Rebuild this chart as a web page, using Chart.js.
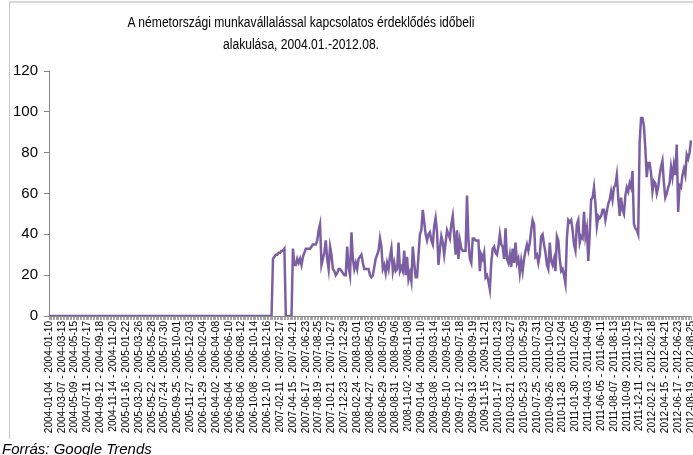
<!DOCTYPE html>
<html lang="hu">
<head>
<meta charset="utf-8">
<title>Németországi munkavállalás - Google Trends</title>
<script src="https://cdn.jsdelivr.net/npm/chart.js@4.4.1/dist/chart.umd.min.js"></script>
<style>
  html, body { margin: 0; padding: 0; background: #fff; }
  #wrapper { position: relative; width: 693px; height: 455px; overflow: hidden; font-family: "Liberation Sans", Arial, sans-serif; color: #000; }
  #frame { position: absolute; left: 9px; top: 1px; width: 700px; height: 436px; border-left: 1px solid #c8c8c8; border-top: 2px solid #d9d9d9; }
  /* the original title uses a narrow face; squeeze the regular one */
  #title { position: absolute; left: 0; width: 602px; top: 11px; text-align: center; font-size: 15.5px; line-height: 22px; transform: scaleX(0.78); transform-origin: 50% 0; white-space: nowrap; }
  #source { position: absolute; left: 2px; top: 440px; font-style: italic; font-size: 15px; }
  canvas { position: absolute; left: 0; top: 0; }
</style>
</head>
<body>
<div id="wrapper">
  <div id="frame"></div>
  <canvas id="trendChart" width="693" height="455"></canvas>
  <div id="title">A németországi munkavállalással kapcsolatos érdeklődés időbeli<br>alakulása, 2004.01.-2012.08.</div>
  <div id="source">Forrás: Google Trends</div>
</div>

<script>
// weekly search interest, first week starts 2004-01-04
const firstWeek = [2004, 0, 4];
const labelEvery = 9; // every 9th week gets a label

const interest = [
    0, 0, 0, 0, 0, 0, 0, 0, 0, 0, 0, 0, 0, 0, 0, 0, 0, 0, 0, 0, 0, 0, 0, 0, 0, 0,
    0, 0, 0, 0, 0, 0, 0, 0, 0, 0, 0, 0, 0, 0, 0, 0, 0, 0, 0, 0, 0, 0, 0, 0, 0, 0,
    0, 0, 0, 0, 0, 0, 0, 0, 0, 0, 0, 0, 0, 0, 0, 0, 0, 0, 0, 0, 0, 0, 0, 0, 0, 0,
    0, 0, 0, 0, 0, 0, 0, 0, 0, 0, 0, 0, 0, 0, 0, 0, 0, 0, 0, 0, 0, 0, 0, 0, 0, 0,
    0, 0, 0, 0, 0, 0, 0, 0, 0, 0, 0, 0, 0, 0, 0, 0, 0, 0, 0, 0, 0, 0, 0, 0, 0, 0,
    0, 0, 0, 0, 0, 0, 0, 0, 0, 0, 0, 0, 0, 0, 0, 0, 0, 0, 0, 0, 0, 0, 0, 0, 0, 0,
    0,
    28, 29, 30, 30, 31, 31, 32, 32, 33,
    0, 0, 0, 0, 0,
    33,
    25, 25, 28, 26, 28, 25, 29, 31, 33, 33, 33, 33, 34, 35, 35, 35, 37, 42, 45, 25,
    28, 31, 37, 28, 23, 34, 30, 23, 22, 20, 21, 23, 23, 22, 21, 20, 20, 34, 24, 20,
    41, 28, 23, 26, 23, 28, 29, 30, 26, 23, 23, 23, 23, 20,
    19, 20, 24, 28, 30, 32, 38, 34, 23, 25, 21, 26, 23, 29, 33, 22, 26, 22, 23, 36,
    22, 24, 22, 32, 20, 29, 18, 21, 17, 34, 26, 19, 19, 30, 40, 42, 52, 46, 40, 37,
    40, 41, 37, 35, 44, 48, 41, 25, 33, 39, 36, 30, 36, 42, 40, 38, 45, 49, 40, 30,
    42, 28, 37, 33, 32, 32, 32, 59, 37, 28, 26, 38,
    38, 37, 37, 37, 22, 30, 28, 31, 19, 20, 17, 13, 26, 33, 34, 31, 30, 34, 40, 35,
    34, 28, 43, 28, 26, 30, 24, 33, 26, 36, 26, 28, 21, 27, 22, 28, 32, 35, 32, 36,
    42, 47, 45, 29, 30, 26, 30, 39, 40, 35, 31, 25, 23, 36, 27, 25, 28, 22, 39, 37,
    28, 22, 23, 20, 16, 38, 47, 46, 47, 42, 35, 32, 45, 47,
    36, 39, 38, 51, 39, 43, 27, 40, 57, 58, 63, 55, 44, 49, 48, 49, 52, 52, 47, 51,
    55, 57, 61, 57, 63, 64, 69, 58, 49, 58, 52, 50, 59, 63, 61, 65, 63, 71, 45, 43,
    42, 40, 85, 97, 97, 93, 82, 68, 75, 75, 70, 61, 66, 65, 60, 63, 69, 73, 76, 65,
    58, 60, 63, 65, 73, 68, 74, 69, 84, 51, 64, 63, 69, 72, 69, 79, 77, 80, 86
];

const yTicks = [0, 20, 40, 60, 80, 100, 120];

// week labels like "2004-01-04 - 2004-01-10"
function isoDay(ms) {
    return new Date(ms).toISOString().slice(0, 10);
}
const weeks = [];
const dayMs = 24 * 3600 * 1000;
let start = Date.UTC(firstWeek[0], firstWeek[1], firstWeek[2]);
for (let i = 0; i < interest.length; i++) {
    weeks.push(isoDay(start) + ' - ' + isoDay(start + 6 * dayMs));
    start += 7 * dayMs;
}

Chart.defaults.font.family = '"Liberation Sans", Arial, sans-serif';
Chart.defaults.color = '#000';

const axisGrey = '#868686';

new Chart(document.getElementById('trendChart'), {
    type: 'line',
    data: {
        labels: weeks,
        datasets: [{
            label: 'Google Trends',
            data: interest,
            borderColor: '#7C5FA3',
            borderWidth: 2.5,
            pointRadius: 0,
            tension: 0,
            fill: false
        }]
    },
    options: {
        responsive: false,
        animation: false,
        layout: {
            padding: { top: 71, right: 2, bottom: 0, left: 0 }
        },
        plugins: {
            legend: { display: false },
            tooltip: { enabled: false }
        },
        scales: {
            x: {
                grid: {
                    drawOnChartArea: false,
                    drawTicks: true,
                    tickLength: 4,
                    color: '#a6a6a6'
                },
                border: { color: axisGrey },
                ticks: {
                    autoSkip: false,
                    minRotation: 90,
                    maxRotation: 90,
                    padding: 1,
                    font: { size: 10.1 },
                    callback: function (value, index) {
                        return index % labelEvery === 0 ? weeks[index] : '';
                    }
                },
                afterFit: function (scale) {
                    scale.height = 139;
                    scale.paddingLeft = 0;
                    scale.paddingRight = 0;
                }
            },
            y: {
                min: yTicks[0],
                max: yTicks[yTicks.length - 1],
                grid: {
                    drawOnChartArea: false,
                    drawTicks: true,
                    tickLength: 5,
                    color: axisGrey
                },
                border: { color: axisGrey },
                afterBuildTicks: function (scale) {
                    scale.ticks = yTicks.map(v => ({ value: v }));
                },
                ticks: {
                    padding: 6,
                    font: { size: 15 }
                },
                afterFit: function (scale) {
                    scale.width = 49;
                }
            }
        }
    }
});
</script>
</body>
</html>
